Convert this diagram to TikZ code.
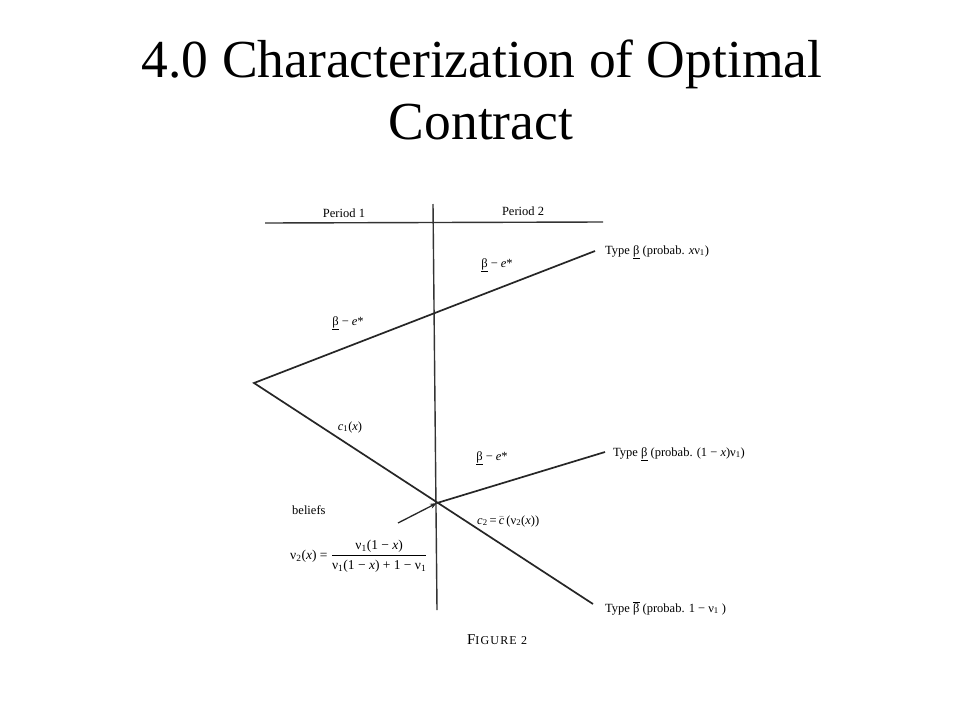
\documentclass[tikz,border=0pt]{standalone}
\usepackage{fontspec}
\setmainfont{Liberation Serif}
\newfontfamily\figfont[LetterSpace=10]{Liberation Serif}
\usetikzlibrary{arrows.meta}
\newcommand{\ub}{\underline{β}}
\newcommand{\ob}{$\overline{\mbox{β}}$}
\tikzset{
  lbl/.style={inner sep=0pt, font=\fontsize{12.5}{14}\selectfont},
  titletext/.style={inner sep=0pt, anchor=base, font=\fontsize{53.5}{62}\selectfont},
  tree/.style={line width=1.7pt, black!85},
  axis/.style={line width=1.4pt, black!80},
}
\begin{document}
\begin{tikzpicture}[x=1pt,y=-1pt]
\useasboundingbox[fill=white] (0,0) rectangle (960,720);
% title
\node[titletext] (title1) at (482,77) {4.0 Characterization of Optimal};
\node[titletext] (title2) at (481,139) {Contract};
% axes
\coordinate (vt) at (433,204);
\coordinate (vb) at (437,610);
\coordinate (hl) at (265,223);
\coordinate (hr) at (603,222);
\draw[axis] (vt) -- (vb);
\draw[axis] (hl) -- (hr);
\node[lbl] (p1) at (344,213) {Period 1};
\node[lbl] (p2) at (523,211) {Period 2};
% tree
\coordinate (L) at (254,383);
\coordinate (U) at (595,251);
\coordinate (J) at (437,503);
\coordinate (D) at (593,604);
\coordinate (M) at (605,452);
\coordinate (A) at (398,523);
\draw[tree, line join=miter] (U) -- (L) -- (D);
\draw[tree] (J) -- (M);
\draw[line width=1.3pt, black!85, -{Stealth[length=7pt,width=5pt]}] (A) -- (J);
% labels
\node[lbl] (b1) at (497,265) {\ub{} − \textit{e}*};
\node[lbl] (b2) at (348,323) {\ub{} − \textit{e}*};
\node[lbl] (b3) at (492,458) {\ub{} − \textit{e}*};
\node[lbl] (c1) at (350,427) {\textit{c}\textsubscript{1}(\textit{x})};
\node[lbl, anchor=west] (t1) at (605,252) {Type \ub\ (probab. \textit{x}ν\textsubscript{1})};
\node[lbl, anchor=west] (t2) at (613,454) {Type \ub\ (probab. (1 − \textit{x})ν\textsubscript{1})};
\node[lbl, anchor=west] (t3) at (605,608) {Type \ob\ (probab. 1 − ν\textsubscript{1} )};
\node[lbl, anchor=west] (bel) at (292,510) {beliefs};
\node[lbl, anchor=west] (c2) at (477,521) {\textit{c}\textsubscript{2}\,=\,$\bar{\mbox{\textit{c}}}$\,(ν\textsubscript{2}(\textit{x}))};
\node[lbl, anchor=west, font=\fontsize{13.5}{15}\selectfont] (nu) at (290,556) {ν\textsubscript{2}(\textit{x}) = $\displaystyle\frac{\mbox{ν\textsubscript{1}(1 − \textit{x})}}{\mbox{ν\textsubscript{1}(1 − \textit{x}) + 1 − ν\textsubscript{1}}}$};
\node[lbl] (fig) at (497,640) {\figfont\fontsize{15}{16}\selectfont F\fontsize{12}{14}\selectfont IGURE 2};
\end{tikzpicture}
\end{document}
